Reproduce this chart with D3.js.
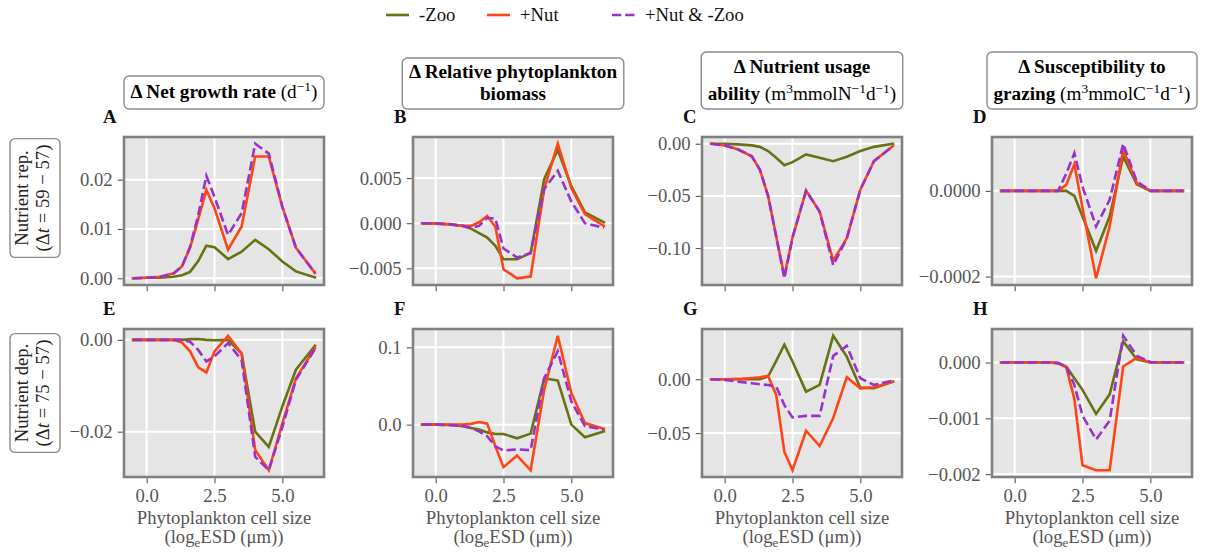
<!DOCTYPE html>
<html>
<head>
<meta charset="utf-8">
<script src="https://cdn.jsdelivr.net/npm/d3@7"></script>
<style>
  body { margin: 0; background: #ffffff; }
  svg { display: block; }
</style>
</head>
<body>
<svg id="fig" width="1206" height="554"></svg>
<script>
// Phytoplankton size classes, log_e ESD (µm)
const cellSize = [-0.5, 0.0, 0.5, 1.0, 1.3, 1.6, 1.9, 2.2, 2.5, 3.0, 3.5, 4.0, 4.5, 5.0, 5.5, 6.2];

// Scenario labels
const scenarios = ["-Zoo", "+Nut", "+Nut & -Zoo"];

// A: Δ net growth rate, nutrient replete
const growthRepNoZoo   = [0, 0.0001, 0.0001, 0.0003, 0.0006, 0.0013, 0.0035, 0.0066, 0.0063, 0.0039, 0.0054, 0.0078, 0.0059, 0.0034, 0.0014, 0.0002];
const growthRepNut     = [0, 0.0001, 0.0003, 0.0010, 0.0024, 0.0062, 0.0120, 0.0179, 0.0142, 0.0058, 0.0105, 0.0247, 0.0247, 0.0145, 0.0062, 0.0011];
const growthRepNutNoZoo= [0, 0.0001, 0.0003, 0.0010, 0.0024, 0.0064, 0.0128, 0.0208, 0.0165, 0.0088, 0.0132, 0.0273, 0.0253, 0.0145, 0.0062, 0.0011];

// B: Δ relative phytoplankton biomass, nutrient replete
const biomassRepNoZoo   = [0, -0.00002, -0.00015, -0.0003, -0.0006, -0.0011, -0.0016, -0.0025, -0.0040, -0.0040, -0.0033, 0.0049, 0.0081, 0.0041, 0.0012, 0.0001];
const biomassRepNut     = [0, -0.00005, -0.0001, -0.0003, -0.0003, 0.0001, 0.0008, -0.0004, -0.0051, -0.0061, -0.0059, 0.0038, 0.0088, 0.0039, 0.0010, -0.0003];
const biomassRepNutNoZoo= [0, -0.00005, -0.0001, -0.0003, -0.0005, -0.0003, 0.0006, 0.0005, -0.0028, -0.0038, -0.0033, 0.0038, 0.0058, 0.0024, 0.0000, -0.0005];

// C: Δ nutrient usage ability, nutrient replete
const nutrientRepNoZoo   = [0, 0, -0.0006, -0.0016, -0.0030, -0.0070, -0.0135, -0.0206, -0.0177, -0.0103, -0.0135, -0.0167, -0.0125, -0.0070, -0.0030, 0];
const nutrientRepNut     = [0, -0.0016, -0.0055, -0.0120, -0.0250, -0.0500, -0.0890, -0.1270, -0.0900, -0.0450, -0.0650, -0.1120, -0.0907, -0.0440, -0.0167, -0.0023];
const nutrientRepNutNoZoo= [0, -0.0016, -0.0055, -0.0120, -0.0250, -0.0500, -0.0890, -0.1290, -0.0900, -0.0450, -0.0650, -0.1165, -0.0907, -0.0440, -0.0167, -0.0023];

// D: Δ susceptibility to grazing, nutrient replete
const grazingRepNoZoo   = [0, 0, 0, 0, 0, 0, 0, -0.0000117, -0.00006, -0.00014, -0.00006, 0.00008, 0.0000156, 0, 0, 0];
const grazingRepNut     = [0, 0, 0, 0, 0, 0, 0.000014, 0.000062, -0.00004, -0.000204, -0.000083, 0.000096, 0.000018, 0, 0, 0];
const grazingRepNutNoZoo= [0, 0, 0, 0, 0, 0, 0.00004, 0.000088, 0.00001, -0.000083, -0.000021, 0.00011, 0.000022, 0, 0, 0];

// E: Δ net growth rate, nutrient deplete
const growthDepNoZoo   = [0, 0, 0, 0, 0, 0.00015, 0.0002, 0, -0.0001, 0, -0.0030, -0.0200, -0.0233, -0.0145, -0.0065, -0.0013];
const growthDepNut     = [0, 0, 0, 0, -0.0006, -0.0025, -0.0060, -0.0071, -0.0025, 0.0009, -0.0030, -0.0240, -0.0284, -0.0182, -0.0084, -0.0018];
const growthDepNutNoZoo= [0, 0, 0, 0, 0, -0.0004, -0.0022, -0.0047, -0.0036, -0.0007, -0.0044, -0.0255, -0.0284, -0.0190, -0.0087, -0.0020];

// F: Δ relative phytoplankton biomass, nutrient deplete
const biomassDepNoZoo   = [0, 0, -0.0004, -0.0020, -0.0043, -0.0064, -0.0100, -0.0120, -0.0120, -0.0176, -0.0116, 0.0600, 0.0570, 0.0000, -0.0163, -0.0086];
const biomassDepNut     = [0, 0, 0, 0, 0.0010, 0.0034, 0.0013, -0.0280, -0.0550, -0.0400, -0.0590, 0.0450, 0.1150, 0.0410, 0.0020, -0.0056];
const biomassDepNutNoZoo= [0, 0, -0.0004, -0.0013, -0.0043, -0.0086, -0.0150, -0.0280, -0.0335, -0.0320, -0.0330, 0.0600, 0.0950, 0.0300, -0.0020, -0.0064];

// G: Δ nutrient usage ability, nutrient deplete
const nutrientDepNoZoo   = [0, 0, 0, 0, 0, 0.0025, 0.0170, 0.0320, 0.0165, -0.0115, -0.0053, 0.0404, 0.0210, -0.0078, -0.0084, -0.0022];
const nutrientDepNut     = [0, 0, 0.0003, 0.0012, 0.0019, 0.0030, -0.0146, -0.0674, -0.0845, -0.0478, -0.0620, -0.0360, 0.0019, -0.0084, -0.0075, -0.0022];
const nutrientDepNutNoZoo= [0, -0.0006, -0.0022, -0.0037, -0.0047, -0.0053, -0.0068, -0.0240, -0.0354, -0.0340, -0.0340, 0.0217, 0.0310, 0.0009, -0.0053, -0.0012];

// H: Δ susceptibility to grazing, nutrient deplete
const grazingDepNoZoo   = [0, 0, 0, 0, 0, -0.00001, -0.00007, -0.00028, -0.00049, -0.00092, -0.00057, 0.00038, 0.000055, 0, 0, 0];
const grazingDepNut     = [0, 0, 0, 0, 0, -0.00001, -0.000085, -0.00065, -0.00184, -0.00193, -0.00193, -0.00007, 0.000085, 0, 0, 0];
const grazingDepNutNoZoo= [0, 0, 0, 0, 0, -0.00001, -0.00007, -0.00040, -0.00095, -0.00138, -0.00104, 0.00048, 0.00012, 0.00001, 0, 0];

// Axis tick values
const xTickValues = [0, 2.5, 5.0];
const yTicksA = [0, 0.01, 0.02];
const yTicksB = [-0.005, 0, 0.005];
const yTicksC = [-0.10, -0.05, 0];
const yTicksD = [-0.0002, 0];
const yTicksE = [-0.02, 0];
const yTicksF = [0, 0.1];
const yTicksG = [-0.05, 0];
const yTicksH = [-0.002, -0.001, 0];

// ---------------------------------------------------------------------------
const serif = "'Liberation Serif', 'Times New Roman', Times, serif";
const FS = 18.7;          // base font size
const colors = ["#687114", "#ff4515", "#9932cc"];
const dashes = [null, null, "9.25,4"];

const colLeft = [124, 413, 702, 992];
const rowTop = [137, 329];
const W = 200, H = 148;

const fig = d3.select("#fig").attr("font-family", serif);

function padded(vals) {
  const [a, b] = d3.extent(vals);
  const p = (b - a) * 0.05;
  return [a - p, b + p];
}

const x = d3.scaleLinear().domain(padded(cellSize)).range([0, W]);

const panels = [
  { letter: "A", row: 0, col: 0, series: [growthRepNoZoo, growthRepNut, growthRepNutNoZoo], ticks: yTicksA, fmt: ".2f" },
  { letter: "B", row: 0, col: 1, series: [biomassRepNoZoo, biomassRepNut, biomassRepNutNoZoo], ticks: yTicksB, fmt: ".3f" },
  { letter: "C", row: 0, col: 2, series: [nutrientRepNoZoo, nutrientRepNut, nutrientRepNutNoZoo], ticks: yTicksC, fmt: ".2f" },
  { letter: "D", row: 0, col: 3, series: [grazingRepNoZoo, grazingRepNut, grazingRepNutNoZoo], ticks: yTicksD, fmt: ".4f" },
  { letter: "E", row: 1, col: 0, series: [growthDepNoZoo, growthDepNut, growthDepNutNoZoo], ticks: yTicksE, fmt: ".2f" },
  { letter: "F", row: 1, col: 1, series: [biomassDepNoZoo, biomassDepNut, biomassDepNutNoZoo], ticks: yTicksF, fmt: ".1f" },
  { letter: "G", row: 1, col: 2, series: [nutrientDepNoZoo, nutrientDepNut, nutrientDepNutNoZoo], ticks: yTicksG, fmt: ".2f" },
  { letter: "H", row: 1, col: 3, series: [grazingDepNoZoo, grazingDepNut, grazingDepNutNoZoo], ticks: yTicksH, fmt: ".3f" }
];

const letterOffset = [21, 19, 19, 19];

panels.forEach(p => {
  const left = colLeft[p.col], top = rowTop[p.row];
  const y = d3.scaleLinear().domain(padded(p.series.flat())).range([H, 0]);
  const g = fig.append("g").attr("transform", `translate(${left},${top})`);

  g.append("rect").attr("width", W).attr("height", H).attr("fill", "#e5e5e5");

  // grid
  g.selectAll(".vgrid").data(xTickValues).join("line")
    .attr("x1", d => x(d)).attr("x2", d => x(d)).attr("y1", 0).attr("y2", H)
    .attr("stroke", "#ffffff").attr("stroke-width", 2);
  g.selectAll(".hgrid").data(p.ticks).join("line")
    .attr("x1", 0).attr("x2", W).attr("y1", d => y(d)).attr("y2", d => y(d))
    .attr("stroke", "#ffffff").attr("stroke-width", 2);

  // series
  const line = d3.line().x((d, i) => x(cellSize[i])).y(d => y(d));
  p.series.forEach((s, k) => {
    g.append("path").datum(s).attr("d", line)
      .attr("fill", "none").attr("stroke", colors[k]).attr("stroke-width", 2.6)
      .attr("stroke-linejoin", "miter").attr("stroke-linecap", k === 2 ? "butt" : "square")
      .attr("stroke-dasharray", dashes[k]);
  });

  // frame
  g.append("rect").attr("width", W).attr("height", H).attr("fill", "none")
    .attr("stroke", "#808080").attr("stroke-width", 2.6);

  // axes
  const yAxis = g.append("g").attr("transform", "translate(-1.3,0)")
    .call(d3.axisLeft(y).tickValues(p.ticks).tickFormat(d3.format(p.fmt)).tickSize(5).tickPadding(5));
  const xAxis = g.append("g").attr("transform", `translate(0,${H + 1.3})`)
    .call(d3.axisBottom(x).tickValues(xTickValues)
      .tickFormat(p.row === 1 ? d3.format(".1f") : () => "").tickSize(5).tickPadding(5));
  [yAxis, xAxis].forEach(a => {
    a.select(".domain").remove();
    a.selectAll(".tick line").attr("stroke", "#555555").attr("stroke-width", 1.1);
    a.selectAll(".tick text").attr("fill", "#555555").attr("font-size", FS).attr("font-family", serif);
  });

  // panel letter
  fig.append("text").attr("x", left - letterOffset[p.col]).attr("y", top - 14)
    .attr("font-size", FS).attr("font-weight", "bold").attr("fill", "#111")
    .text(p.letter);

  // x-axis label on bottom row
  if (p.row === 1) {
    const cx = left + W / 2;
    fig.append("text").attr("x", cx).attr("y", 524).attr("text-anchor", "middle")
      .attr("font-size", FS).attr("fill", "#555555").text("Phytoplankton cell size");
    const t2 = fig.append("text").attr("x", cx).attr("y", 543).attr("text-anchor", "middle")
      .attr("font-size", FS).attr("fill", "#555555");
    t2.append("tspan").text("(log");
    t2.append("tspan").attr("dy", 4).attr("font-size", 13).text("e");
    t2.append("tspan").attr("dy", -4).text("ESD (\u03bcm))");
  }
});

// ---------------------------------------------------------------------------
// Column headers (boxed)
function richText(sel, parts) {
  let shift = 0;
  parts.forEach(pt => {
    const ts = sel.append("tspan");
    const target = pt.sup ? -7.5 : (pt.sub ? 4 : 0);
    ts.attr("dy", target - shift);
    shift = target;
    if (pt.sup || pt.sub) ts.attr("font-size", 13.5);
    if (pt.b) ts.attr("font-weight", "bold");
    if (pt.i) ts.attr("font-style", "italic");
    ts.text(pt.t);
  });
}

const headers = [
  { col: 0, y0: 76, y1: 109, lines: [
      { y: 98, parts: [{ t: "\u0394 Net growth rate ", b: true }, { t: "(d" }, { t: "\u22121", sup: true }, { t: ")" }] }
  ]},
  { col: 1, y0: 58, y1: 109, lines: [
      { y: 78, parts: [{ t: "\u0394 Relative phytoplankton", b: true }] },
      { y: 100, parts: [{ t: "biomass", b: true }] }
  ]},
  { col: 2, y0: 52, y1: 109, lines: [
      { y: 73, parts: [{ t: "\u0394 Nutrient usage", b: true }] },
      { y: 100, parts: [{ t: "ability ", b: true }, { t: "(m" }, { t: "3", sup: true }, { t: "mmolN" }, { t: "\u22121", sup: true }, { t: "d" }, { t: "\u22121", sup: true }, { t: ")" }] }
  ]},
  { col: 3, y0: 52, y1: 109, lines: [
      { y: 73, parts: [{ t: "\u0394 Susceptibility to", b: true }] },
      { y: 100, parts: [{ t: "grazing ", b: true }, { t: "(m" }, { t: "3", sup: true }, { t: "mmolC" }, { t: "\u22121", sup: true }, { t: "d" }, { t: "\u22121", sup: true }, { t: ")" }] }
  ]}
];

headers.forEach(h => {
  const cx = colLeft[h.col] + W / 2;
  const g = fig.append("g");
  const box = g.append("rect");
  let maxW = 0;
  h.lines.forEach(ln => {
    const t = g.append("text").attr("x", cx).attr("y", ln.y).attr("text-anchor", "middle")
      .attr("font-size", 19.2).attr("fill", "#000");
    richText(t, ln.parts);
    maxW = Math.max(maxW, t.node().getBBox().width);
  });
  const bw = maxW + 13;
  box.attr("x", cx - bw / 2).attr("y", h.y0).attr("width", bw).attr("height", h.y1 - h.y0)
    .attr("rx", 5).attr("fill", "#ffffff").attr("stroke", "#8c8c8c").attr("stroke-width", 1.4);
});

// Row labels (boxed, rotated)
const rowLabels = [
  { cy: 198, name: "Nutrient rep.", span: "59 \u2212 57" },
  { cy: 393, name: "Nutrient dep.", span: "75 \u2212 57" }
];
rowLabels.forEach(r => {
  const g = fig.append("g");
  const box = g.append("rect");
  const t1 = g.append("text").attr("transform", `translate(28,${r.cy}) rotate(-90)`)
    .attr("text-anchor", "middle").attr("font-size", FS).attr("fill", "#222").text(r.name);
  const t2 = g.append("text").attr("transform", `translate(49,${r.cy}) rotate(-90)`)
    .attr("text-anchor", "middle").attr("font-size", FS).attr("fill", "#222");
  richText(t2, [{ t: "(\u0394" }, { t: "t", i: true }, { t: " = " + r.span + ")" }]);
  const len = Math.max(t1.node().getBBox().width, t2.node().getBBox().width) + 12;
  box.attr("x", 10).attr("y", r.cy - len / 2).attr("width", 50).attr("height", len)
    .attr("rx", 5).attr("fill", "#ffffff").attr("stroke", "#8c8c8c").attr("stroke-width", 1.4);
});

// Legend
const legendItems = [
  { x: 386, tx: 419 },
  { x: 487, tx: 520 },
  { x: 612, tx: 645 }
];
const legend = fig.append("g");
scenarios.forEach((name, k) => {
  const it = legendItems[k];
  legend.append("line").attr("x1", it.x).attr("x2", it.x + 23).attr("y1", 15).attr("y2", 15)
    .attr("stroke", colors[k]).attr("stroke-width", 2.6).attr("stroke-dasharray", dashes[k]);
  legend.append("text").attr("x", it.tx).attr("y", 15).attr("dy", "0.33em")
    .attr("font-size", FS).attr("fill", "#111").text(name);
});
</script>
</body>
</html>
